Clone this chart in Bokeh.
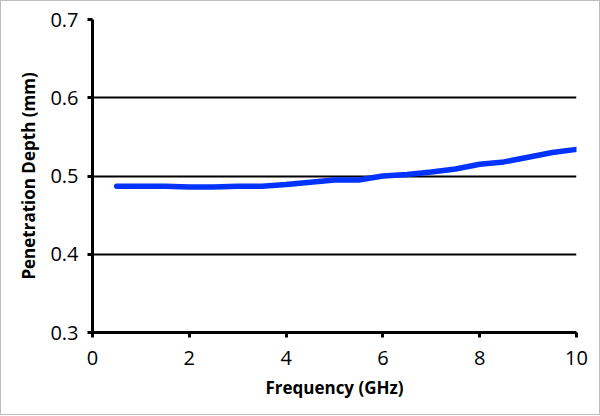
from bokeh.plotting import figure
from bokeh.models import Range1d, FixedTicker
from bokeh.embed import file_html
from bokeh.resources import INLINE

freq_ghz = [0.5, 1.0, 1.5, 2.0, 2.5, 3.0, 3.5, 4.0, 4.5, 5.0,
            5.5, 6.0, 6.5, 7.0, 7.5, 8.0, 8.5, 9.0, 9.5, 10.0]
depth_mm = [0.487, 0.487, 0.487, 0.486, 0.486, 0.487, 0.487, 0.489, 0.492, 0.495,
            0.495, 0.500, 0.502, 0.505, 0.509, 0.515, 0.518, 0.524, 0.530, 0.534]
x_ticks = [0, 2, 4, 6, 8, 10]
y_ticks = [0.3, 0.4, 0.5, 0.6, 0.7]

p = figure(width=600, height=415, output_backend="svg", toolbar_location=None,
           x_range=Range1d(0, 10), y_range=Range1d(0.3, 0.7),
           min_border_left=91, min_border_right=25, min_border_top=18, min_border_bottom=84)
p.styles = {"border": "1px solid #bdbdbd", "box-sizing": "border-box"}
p.outline_line_color = None
p.background_fill_color = "white"
p.border_fill_color = "white"

p.line(freq_ghz, depth_mm, line_color="#0033ff", line_width=5.5, line_cap="round")

p.xgrid.visible = False
p.ygrid.ticker = FixedTicker(ticks=y_ticks)
p.ygrid.grid_line_color = "black"
p.ygrid.grid_line_width = 2

font = "Open Sans"
for ax in (p.xaxis[0], p.yaxis[0]):
    ax.axis_line_width = 3
    ax.axis_line_color = "black"
    ax.major_tick_line_width = 3
    ax.major_tick_line_color = "black"
    ax.major_tick_out = 5
    ax.major_tick_in = 0
    ax.minor_tick_line_color = None
    ax.major_label_text_font = font
    ax.major_label_text_font_size = "20px"
    ax.major_label_text_color = "black"
    ax.axis_label_text_font = font
    ax.axis_label_text_font_style = "bold"
    ax.axis_label_text_font_size = "17px"
    ax.axis_label_text_color = "black"

p.xaxis.ticker = FixedTicker(ticks=x_ticks)
p.yaxis.ticker = FixedTicker(ticks=y_ticks)
p.xaxis.axis_label = "Frequency (GHz)"
p.yaxis.axis_label = "Penetration Depth (mm)"
p.xaxis.major_label_standoff = 13
p.yaxis.major_label_standoff = 9
p.xaxis.axis_label_standoff = 8
p.yaxis.axis_label_standoff = 7

open("out.html", "w").write(file_html(p, INLINE))
